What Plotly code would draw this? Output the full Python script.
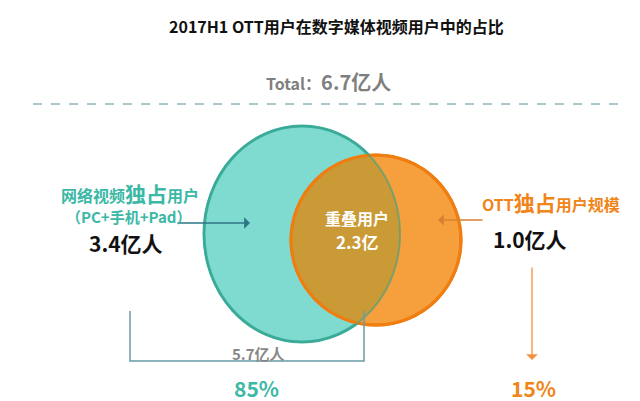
import numpy as np
import plotly.graph_objects as go

# data
groups = ["网络视频独占用户", "重叠用户", "OTT独占用户规模"]
users = [3.4, 2.3, 1.0]          # 亿人
total = 6.7
online_total = 5.7
shares = ["85%", "15%"]

FONT = "Noto Sans CJK SC"
TEAL = "#3cb8a6"
ORANGE = "#f08519"

fig = go.Figure()

# circles (pixel space)
tcx, tcy, trx, try_ = 294, 226, 98, 108
ocx, ocy, orr = 368, 232, 85

fig.add_shape(type="circle", x0=tcx - trx, x1=tcx + trx, y0=tcy - try_, y1=tcy + try_,
              fillcolor="#7fdbcf", line=dict(color="#3db5a4", width=3), layer="below")
fig.add_shape(type="circle", x0=ocx - orr, x1=ocx + orr, y0=ocy - orr, y1=ocy + orr,
              fillcolor="#f5a03d", line=dict(color="#f07d0f", width=3), layer="below")

# overlap lens
t = np.linspace(0, 2 * np.pi, 720)
pts = []
for a in t:
    x, y = ocx + orr * np.cos(a), ocy + orr * np.sin(a)
    if ((x - tcx) / trx) ** 2 + ((y - tcy) / try_) ** 2 <= 1:
        pts.append((x, y))
    x, y = tcx + trx * np.cos(a), tcy + try_ * np.sin(a)
    if (x - ocx) ** 2 + (y - ocy) ** 2 <= orr ** 2:
        pts.append((x, y))
mx = np.mean([p[0] for p in pts]); my = np.mean([p[1] for p in pts])
pts.sort(key=lambda p: np.arctan2(p[1] - my, p[0] - mx))
path = "M" + "L".join(f"{x:.1f},{y:.1f}" for x, y in pts) + "Z"
fig.add_shape(type="path", path=path, fillcolor="#c99a35", line=dict(width=0), layer="below")
fig.add_shape(type="circle", x0=ocx - orr, x1=ocx + orr, y0=ocy - orr, y1=ocy + orr,
              line=dict(color="#f07d0f", width=3), layer="below")
fig.add_shape(type="path", path="M" + "L".join(
    f"{tcx + trx*np.cos(a):.1f},{tcy + try_*np.sin(a):.1f}" for a in t) + "Z",
    line=dict(color="rgba(60,160,140,0.6)", width=2), layer="below")

# dashed separator
fig.add_shape(type="line", x0=25, x1=615, y0=96, y1=96, line=dict(color="#5a8a9a", width=1, dash="dash"))
# bracket
bc = "#6a9aa8"
fig.add_shape(type="path", path="M122,303 L122,353 L356,353 L356,303",
              line=dict(color=bc, width=1.5))

def arrow(x0, y0, x1, y1, color):
    fig.add_annotation(x=x1, y=y1, ax=x0, ay=y0, xref="x", yref="y", axref="x", ayref="y",
                       showarrow=True, arrowhead=1, arrowsize=1.5, arrowwidth=1.3,
                       arrowcolor=color, text="")

arrow(168, 215, 242, 215, "#2e7586")
arrow(476, 212, 430, 212, "#d98030")
arrow(524, 258, 524, 352, "#f09040")

def txt(x, y, s, size, color, bold=True):
    fig.add_annotation(x=x, y=y, text=f"<b>{s}</b>" if bold else s, showarrow=False,
                       font=dict(family=FONT, size=size, color=color), xref="x", yref="y")

txt(328, 18, "2017H1 OTT用户在数字媒体视频用户中的占比", 16, "#111111")
txt(320, 73, f"Total：<span style='font-size:20px'>{total}亿人</span>", 16, "#7f7f7f")
txt(122, 185, "网络视频<span style='font-size:21px'>独占</span>用户", 16, TEAL)
txt(120, 208, "（PC+手机+Pad）", 15, TEAL)
txt(118, 235, f"{users[0]}亿人", 21, "#111111")
txt(349, 210, groups[1], 16, "white")
txt(349, 233, f"{users[1]}亿", 17, "white")
txt(543, 194, "OTT<span style='font-size:21px'>独占</span>用户规模", 16, ORANGE)
txt(522, 231, f"{users[2]}亿人", 21, "#111111")
txt(250, 345, f"{online_total}亿人", 15, "#888888")
txt(248, 380, shares[0], 21, TEAL)
txt(525, 380, shares[1], 21, ORANGE)

fig.update_xaxes(range=[0, 640], visible=False, fixedrange=True)
fig.update_yaxes(range=[401, 0], visible=False, fixedrange=True)
fig.update_layout(width=640, height=401, margin=dict(l=0, r=0, t=0, b=0),
                  plot_bgcolor="white", paper_bgcolor="white", showlegend=False)
fig.write_html("out.html")
